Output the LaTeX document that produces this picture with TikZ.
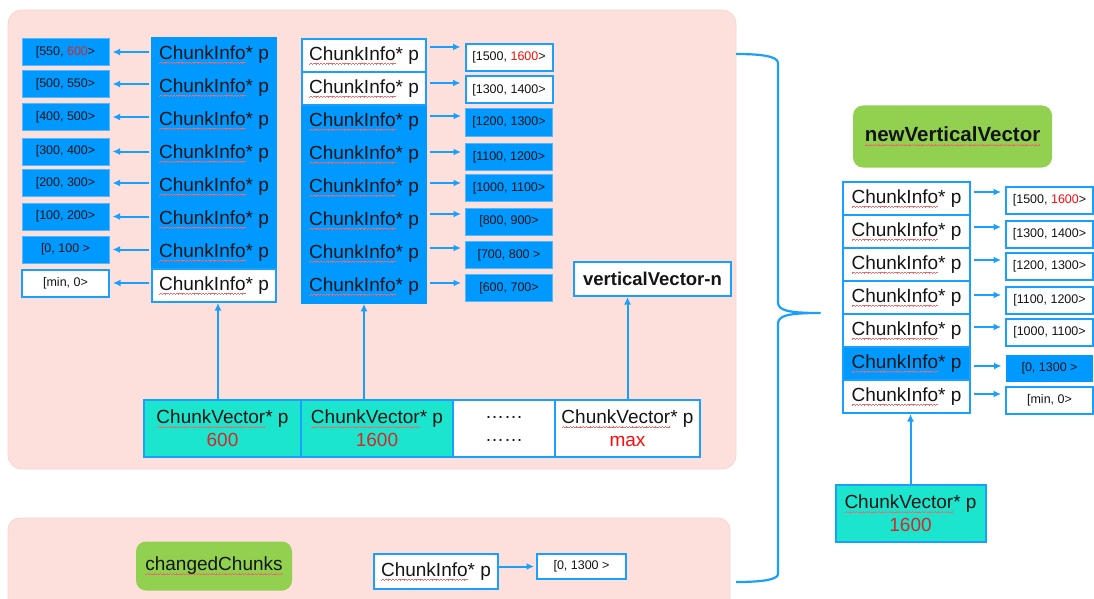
\documentclass[tikz,border=0pt]{standalone}
\usepackage{fontspec}
\setmainfont{Liberation Sans}
\usetikzlibrary{arrows.meta}

\definecolor{cpink}{RGB}{253,224,220}
\definecolor{cpinkedge}{RGB}{242,214,210}
\definecolor{cblue}{RGB}{0,153,255}
\definecolor{cline}{RGB}{25,160,255}
\definecolor{cteal}{RGB}{28,229,205}
\definecolor{cgreen}{RGB}{146,208,80}
\definecolor{dred}{RGB}{214,40,40}
\definecolor{bred}{RGB}{255,10,10}
\definecolor{wavered}{RGB}{238,105,105}
\definecolor{ink}{RGB}{20,20,20}

% red wavy spell-check underline, built from tiny rules
\newcommand\wavecell{\hbox{%
  \raise0pt\hbox{\rule{0.8pt}{0.5pt}}%
  \raise0.5pt\hbox{\rule{0.8pt}{0.5pt}}%
  \raise1pt\hbox{\rule{0.8pt}{0.5pt}}%
  \raise0.5pt\hbox{\rule{0.8pt}{0.5pt}}}}
\newsavebox\wavebox
\newcommand\spellwave[1]{\sbox\wavebox{#1}%
  \rlap{\color{wavered}\lower4pt\hbox to \wd\wavebox{\xleaders\wavecell\hfil}}%
  \usebox\wavebox}
\newcommand\CI{\spellwave{ChunkInfo}* p}
\newcommand\CV{\spellwave{ChunkVector}* p}

\tikzset{
  lbl/.style={font=\fontsize{19}{23}\selectfont, text=ink, inner sep=0pt, align=center},
  cell/.style={lbl, minimum width=124pt, minimum height=33pt},
  bcell/.style={cell, fill=cblue, draw=cblue, line width=1.5pt},
  wcell/.style={cell, fill=white, draw=cline, line width=2pt},
  rng/.style={font=\fontsize{12.5}{14}\selectfont, text=ink, inner sep=0pt,
              minimum width=87pt, minimum height=27pt},
  brng/.style={rng, fill=cblue, draw=cline!75, line width=1pt},
  wrng/.style={rng, fill=white, draw=cline, line width=2pt},
  vcell/.style={lbl, minimum height=57pt, draw=cline, line width=2pt},
  tag/.style={fill=cgreen, rounded corners=10pt, text=ink, inner sep=0pt},
  ptr/.style={draw=cline, line width=2pt, -{Latex[length=7.5pt,width=7pt]}},
  panel/.style={fill=cpink, draw=cpinkedge, line width=0.8pt},
}

\begin{document}
\begin{tikzpicture}[x=1pt,y=-1pt]
\useasboundingbox (0,0) rectangle (1094,599);

% background panels
\path[panel, rounded corners=14pt] (8,10) rectangle (736,469);
\path[panel, rounded corners=12pt] (8,518) rectangle (730,640);

% left column of chunk pointers
\foreach \i/\y in {1/54.5,2/87.5,3/120.5,4/153.5,5/186.5,6/219.5,7/252.5}
  \node[bcell] (cA\i) at (214,\y) {\CI};
\node[wcell] (cA8) at (214,285.5) {\CI};

% ranges of the left column
\node[brng] (rA1) at (65.5,52)    {[550, \textcolor{dred}{600}>};
\node[brng] (rA2) at (65.5,84)    {[500, 550>};
\node[brng] (rA3) at (65.5,117)   {[400, 500>};
\node[brng] (rA4) at (65.5,151.5) {[300, 400>};
\node[brng] (rA5) at (65.5,183)   {[200, 300>};
\node[brng] (rA6) at (65.5,216.5) {[100, 200>};
\node[brng] (rA7) at (65.5,249.5) {[0, 100 >};
\node[wrng] (rA8) at (65.5,283)   {[min, 0>};
\foreach \i in {1,...,8}
  \draw[ptr, shorten <=2pt, shorten >=3pt] (rA\i.east -| cA\i.west) -- (rA\i.east);

% middle column of chunk pointers
\foreach \i/\y in {3/121.5,4/154.5,5/187.5,6/220.5,7/253.5,8/286.5}
  \node[bcell] (cB\i) at (364,\y) {\CI};
\node[wcell] (cB1) at (364,55.5) {\CI};
\node[wcell] (cB2) at (364,88.5) {\CI};

% ranges of the middle column
\node[wrng] (rB1) at (509,57.5)  {[1500, \textcolor{bred}{1600}>};
\node[wrng] (rB2) at (509,90)    {[1300, 1400>};
\node[brng] (rB3) at (509,122.5) {[1200, 1300>};
\node[brng] (rB4) at (509,157)   {[1100, 1200>};
\node[brng] (rB5) at (509,188)   {[1000, 1100>};
\node[brng] (rB6) at (509,221.5) {[800, 900>};
\node[brng] (rB7) at (509,255)   {[700, 800 >};
\node[brng] (rB8) at (509,288)   {[600, 700>};
\foreach \i/\d in {1/10.5,2/7,3/6.5,4/5,5/5,6/7.5,7/7,8/5}
  \draw[ptr, shorten <=3pt, shorten >=4pt]
    ([yshift=\d pt]rB\i.west -| cB\i.east) -- ([yshift=\d pt]rB\i.west);

% last vertical vector
\node[lbl, font=\fontsize{18.5}{21}\selectfont\bfseries, fill=white, draw=cline,
      line width=2pt, minimum width=157pt, minimum height=34pt] (vvn) at (652.5,279) {verticalVector-n};

% row of chunk vectors
\node[vcell, fill=cteal, minimum width=157pt] (v1) at (222.5,428.5) {\CV\\\textcolor{dred}{600}};
\node[vcell, fill=cteal, minimum width=152pt] (v2) at (377,428.5)   {\CV\\\textcolor{dred}{1600}};
\node[vcell, fill=white, minimum width=102pt, font=\fontsize{19}{23}\selectfont] (v3) at (504,428.5) {……\\……};
\node[vcell, fill=white, minimum width=145pt] (v4) at (627.5,428.5) {\CV\\\textcolor{bred}{max}};

\draw[ptr] ([xshift=4pt]v1.north -| cA8.south) -- ([xshift=4pt]cA8.south);
\draw[ptr] (v2.north -| cB8.south) -- (cB8.south);
\draw[ptr] (v4.north) -- (v4.north |- vvn.south);

% changed chunks
\node[tag, font=\fontsize{19}{22}\selectfont, minimum width=156pt, minimum height=49pt]
  (cc) at (214,566) {\spellwave{changedChunks}};
\node[lbl, fill=white, draw=cline, line width=2pt, minimum width=124pt, minimum height=35pt]
  (ciB) at (436,571.5) {\CI};
\node[wrng, minimum width=89pt, minimum height=25pt] (rBot) at (581.5,566.5) {[0, 1300 >};
\draw[ptr, shorten >=2pt] (rBot.west -| ciB.east) -- (rBot.west);

% brace joining both panels
\draw[cline, line width=2.2pt, line join=round]
  (736,54) .. controls (760,54) and (778,56) .. (778,63) -- (778,302)
  .. controls (778,310) and (786,313) .. (820,313)
  .. controls (786,313) and (778,316) .. (778,324) -- (778,574)
  .. controls (778,580) and (760,582) .. (736,582);

% new vertical vector
\node[tag, font=\fontsize{20.5}{24}\selectfont\bfseries, minimum width=199pt, minimum height=62pt]
  (nvv) at (952.5,136.5) {\spellwave{newVerticalVector}};

\foreach \i/\y in {1/198.5,2/231.5,3/264.5,4/297.5,5/330.5,7/396.5}
  \node[wcell, minimum width=127pt] (cR\i) at (906.5,\y) {\CI};
\node[wcell, fill=cblue, minimum width=127pt] (cR6) at (906.5,363.5) {\CI};

\node[wrng] (rR1) at (1049.5,200.5) {[1500, \textcolor{bred}{1600}>};
\node[wrng] (rR2) at (1049.5,234)   {[1300, 1400>};
\node[wrng] (rR3) at (1049.5,266.5) {[1200, 1300>};
\node[wrng] (rR4) at (1049.5,300)   {[1100, 1200>};
\node[wrng] (rR5) at (1049.5,332)   {[1000, 1100>};
\node[brng, draw=none] (rR6) at (1049.5,368) {[0, 1300 >};
\node[wrng] (rR7) at (1049.5,400.5) {[min, 0>};
\foreach \i/\d in {1/8.5,2/7,3/6.5,4/5,5/5,6/2,7/6.5}
  \draw[ptr, shorten <=3pt, shorten >=4pt]
    ([yshift=\d pt]rR\i.west -| cR\i.east) -- ([yshift=\d pt]rR\i.west);

\node[vcell, fill=cteal, minimum width=150pt] (cvR) at (910.5,513.5) {\CV\\\textcolor{dred}{1600}};
\draw[ptr] (cvR.north) -- (cvR.north |- cR7.south);
\end{tikzpicture}
\end{document}
